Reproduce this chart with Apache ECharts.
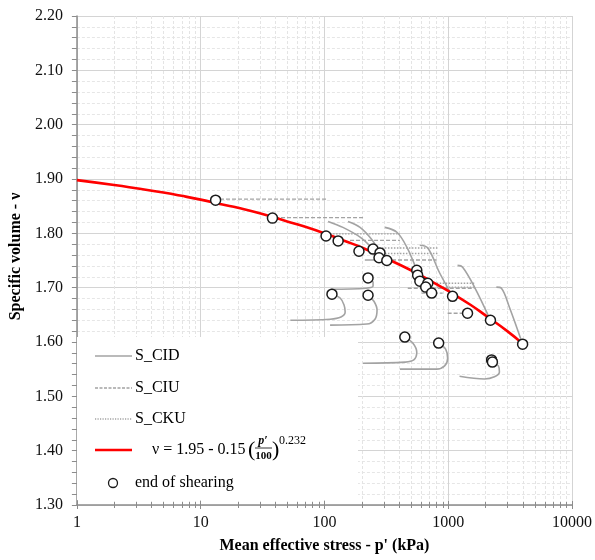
<!DOCTYPE html>
<html>
<head>
<meta charset="utf-8">
<script src="https://cdn.jsdelivr.net/npm/echarts/dist/echarts.min.js"></script>
<style>
  html, body { margin: 0; padding: 0; background: #fff; }
  #chart { width: 595px; height: 560px; }
</style>
</head>
<body>
<div id="chart"></div>
<script>
// Axis tick labels
const xTicks = [1, 10, 100, 1000, 10000];
const yTicks = ['1.30', '1.40', '1.50', '1.60', '1.70', '1.80', '1.90', '2.00', '2.10', '2.20'];

// Critical state line, nu = 1.95 - 0.15 (p'/100)^0.232, sampled [p', nu]
const cslLine = [
  [1, 1.898], [2, 1.889], [3, 1.883], [5, 1.875], [7, 1.869], [10, 1.862],
  [15, 1.853], [20, 1.847], [30, 1.837], [50, 1.822], [70, 1.812], [100, 1.800],
  [150, 1.785], [200, 1.774], [300, 1.756], [500, 1.732], [700, 1.714],
  [1000, 1.694], [1500, 1.669], [2000, 1.649], [3000, 1.620], [3990, 1.597]
];

// Drained triaxial stress paths (S_CID), [p', nu]
const cidPaths = [
  [[107, 1.822], [141, 1.811], [194, 1.793], [247, 1.771]],
  [[155, 1.822], [194, 1.811], [242, 1.788], [281, 1.763]],
  [[308, 1.811], [385, 1.802], [462, 1.775], [557, 1.732]],
  [[589, 1.778], [684, 1.773], [853, 1.727], [1084, 1.684]],
  [[1189, 1.741], [1304, 1.738], [1630, 1.701], [2193, 1.640]],
  [[2449, 1.701], [2690, 1.699], [3121, 1.664], [3990, 1.596]],
  [[115, 1.688], [134, 1.681], [144, 1.668], [147, 1.655], [136, 1.646], [111, 1.642], [53, 1.640]],
  [[225, 1.686], [251, 1.675], [266, 1.659], [256, 1.642], [220, 1.633], [111, 1.631]],
  [[225, 1.718], [247, 1.710], [247, 1.703], [217, 1.699], [112, 1.697]],
  [[446, 1.609], [517, 1.598], [557, 1.581], [527, 1.567], [446, 1.563], [205, 1.561]],
  [[837, 1.598], [953, 1.587], [989, 1.570], [935, 1.556], [807, 1.550], [407, 1.550]],
  [[2275, 1.563], [2543, 1.556], [2592, 1.545], [2362, 1.536], [1963, 1.532], [1234, 1.537]],
  [[212, 1.751], [281, 1.751]]
];

// Isotropically consolidated undrained paths (S_CIU), [p', nu]
const ciuPaths = [
  [[103, 1.863], [13.2, 1.863]],
  [[205, 1.829], [38, 1.829]],
  [[161, 1.787], [407, 1.787]],
  [[281, 1.751], [807, 1.751]],
  [[471, 1.699], [1630, 1.699]],
  [[611, 1.690], [902, 1.690]],
  [[989, 1.653], [1406, 1.653]]
];

// K0 consolidated undrained paths (S_CKU), [p', nu]
const ckuPaths = [
  [[105, 1.799], [407, 1.799]],
  [[233, 1.773], [822, 1.773]],
  [[233, 1.763], [822, 1.763]],
  [[807, 1.708], [1630, 1.708]],
  [[807, 1.701], [1630, 1.701]]
];

// End of shearing states, [p', nu]
const endPoints = [
  [13.2, 1.861], [38, 1.828], [103, 1.795], [129, 1.786], [190, 1.767],
  [247, 1.771], [281, 1.764], [276, 1.755], [319, 1.750], [557, 1.732],
  [566, 1.723], [590, 1.712], [684, 1.708], [658, 1.701], [735, 1.690],
  [1084, 1.684], [1432, 1.653], [2194, 1.640], [3990, 1.596], [225, 1.718],
  [225, 1.686], [115, 1.688], [446, 1.609], [837, 1.598], [2240, 1.567],
  [2275, 1.563]
];

const FONT = '"Liberation Serif", "Times New Roman", serif';
const GREY = '#a3a3a3';
const AXIS_GREY = '#8c8c8c';
const X_MIN = 1, X_MAX = 10000, Y_MIN = 1.3, Y_MAX = 2.2;

// Log-decade minor positions (2..9 in each decade) for the p' axis
const minorX = [];
for (let d = X_MIN; d < X_MAX; d *= 10) {
  for (let k = 2; k <= 9; k++) minorX.push([k * d, Y_MIN]);
}

function snap(v) { return Math.round(v) + 0.5; }

const series = [];
// minor vertical grid lines
series.push({
  type: 'custom', data: minorX, silent: true, z: 1, clip: false,
  renderItem: function (params, api) {
    const top = api.coord([api.value(0), Y_MAX]);
    const bot = api.coord([api.value(0), Y_MIN]);
    const x = snap(top[0]);
    return { type: 'line', shape: { x1: x, y1: top[1], x2: x, y2: bot[1] },
      style: { stroke: '#e4e4e4', lineWidth: 1, lineDash: [3, 2] } };
  }
});
// minor ticks crossing the p' axis
series.push({
  type: 'custom', data: minorX, silent: true, z: 12, clip: false,
  renderItem: function (params, api) {
    const bot = api.coord([api.value(0), Y_MIN]);
    const x = snap(bot[0]);
    return { type: 'line', shape: { x1: x, y1: bot[1] - 3, x2: x, y2: bot[1] + 3 },
      style: { stroke: AXIS_GREY, lineWidth: 1 } };
  }
});
cidPaths.forEach(function (d) {
  series.push({ type: 'line', data: d, smooth: 0.35, showSymbol: false, silent: true, z: 3,
    lineStyle: { color: GREY, width: 1.6, type: 'solid' } });
});
ciuPaths.forEach(function (d) {
  series.push({ type: 'line', data: d, showSymbol: false, silent: true, z: 3,
    lineStyle: { color: GREY, width: 1.4, type: [4, 2] } });
});
ckuPaths.forEach(function (d) {
  series.push({ type: 'line', data: d, showSymbol: false, silent: true, z: 3,
    lineStyle: { color: GREY, width: 1.4, type: [1.5, 1.5] } });
});
series.push({ type: 'line', data: cslLine, smooth: true, showSymbol: false, silent: true, z: 4,
  lineStyle: { color: '#ff0000', width: 2.6 } });
series.push({ type: 'scatter', data: endPoints, symbol: 'circle', symbolSize: 10, z: 5,
  itemStyle: { color: '#ffffff', borderColor: '#1a1a1a', borderWidth: 1.5, opacity: 1 } });

const xBase = {
  type: 'log', logBase: 10, min: X_MIN, max: X_MAX, position: 'bottom', gridIndex: 0
};

const chart = echarts.init(document.getElementById('chart'), null, { renderer: 'canvas' });
chart.setOption({
  animation: false,
  backgroundColor: '#ffffff',
  grid: { left: 76, right: 22, top: 16, bottom: 55, containLabel: false },
  xAxis: [
    Object.assign({}, xBase, {
      name: "Mean effective stress - p' (kPa)",
      nameLocation: 'middle', nameGap: 33,
      nameTextStyle: { fontFamily: FONT, fontSize: 16, fontWeight: 'bold', color: '#000' },
      axisLine: { show: true, lineStyle: { color: AXIS_GREY, width: 1.5 } },
      axisTick: { show: true, inside: false, length: 4, lineStyle: { color: AXIS_GREY } },
      minorTick: { show: false },
      axisLabel: { fontFamily: FONT, fontSize: 16, color: '#111', margin: 10,
        formatter: function (v) { return xTicks.indexOf(v) >= 0 ? String(v) : ''; } },
      splitLine: { show: true, lineStyle: { color: '#d4d4d4', width: 1 } },
      minorSplitLine: { show: false }
    }),
    Object.assign({}, xBase, {
      axisLine: { show: false },
      axisTick: { show: true, inside: true, length: 4, lineStyle: { color: AXIS_GREY } },
      minorTick: { show: false },
      axisLabel: { show: false },
      splitLine: { show: false }
    })
  ],
  yAxis: {
    type: 'value', min: Y_MIN, max: Y_MAX, interval: 0.1,
    name: 'Specific volume - ν', nameLocation: 'middle', nameGap: 52,
    nameTextStyle: { fontFamily: FONT, fontSize: 16, fontWeight: 'bold', color: '#000',
      padding: [0, 0, 0, 8] },
    axisLine: { show: true, lineStyle: { color: AXIS_GREY, width: 1.5 } },
    axisTick: { show: true, inside: false, length: 5, lineStyle: { color: AXIS_GREY } },
    minorTick: { show: true, splitNumber: 5, length: 5, lineStyle: { color: AXIS_GREY } },
    axisLabel: { fontFamily: FONT, fontSize: 16, color: '#111', margin: 14,
      formatter: function (v) {
        const s = v.toFixed(2);
        return yTicks.indexOf(s) >= 0 ? s : '';
      } },
    splitLine: { show: true, lineStyle: { color: '#d4d4d4', width: 1 } },
    minorSplitLine: { show: true, lineStyle: { color: '#e6e6e6', width: 1, type: [3, 2] } }
  },
  series: series,
  graphic: {
    elements: [
      { type: 'rect', z: 10, shape: { x: 77, y: 337, width: 281, height: 163 },
        style: { fill: '#ffffff' } },
      { type: 'line', z: 11, shape: { x1: 95, y1: 356, x2: 132, y2: 356 },
        style: { stroke: GREY, lineWidth: 1.6 } },
      { type: 'text', z: 11, x: 135, y: 356,
        style: { text: 'S_CID', font: '16px ' + FONT, fill: '#000', verticalAlign: 'middle' } },
      { type: 'line', z: 11, shape: { x1: 95, y1: 388, x2: 132, y2: 388 },
        style: { stroke: GREY, lineWidth: 1.4, lineDash: [3, 1.5] } },
      { type: 'text', z: 11, x: 135, y: 388,
        style: { text: 'S_CIU', font: '16px ' + FONT, fill: '#000', verticalAlign: 'middle' } },
      { type: 'line', z: 11, shape: { x1: 95, y1: 419, x2: 132, y2: 419 },
        style: { stroke: GREY, lineWidth: 1.4, lineDash: [1.2, 1.3] } },
      { type: 'text', z: 11, x: 135, y: 419,
        style: { text: 'S_CKU', font: '16px ' + FONT, fill: '#000', verticalAlign: 'middle' } },
      { type: 'line', z: 11, shape: { x1: 95, y1: 450, x2: 132, y2: 450 },
        style: { stroke: '#ff0000', lineWidth: 2.6 } },
      { type: 'text', z: 11, x: 152, y: 450,
        style: { text: 'ν = 1.95 - 0.15', font: '16px ' + FONT, fill: '#000', verticalAlign: 'middle' } },
      { type: 'text', z: 11, x: 248, y: 450,
        style: { text: '(', font: '22px ' + FONT, fill: '#000', verticalAlign: 'middle' } },
      { type: 'text', z: 11, x: 263, y: 441,
        style: { text: 'p′', font: 'italic bold 12px ' + FONT, fill: '#000', align: 'center', verticalAlign: 'middle' } },
      { type: 'line', z: 11, shape: { x1: 255, y1: 448, x2: 272, y2: 448 },
        style: { stroke: '#000', lineWidth: 0.8 } },
      { type: 'text', z: 11, x: 263.5, y: 456,
        style: { text: '100', font: 'bold 11px ' + FONT, fill: '#000', align: 'center', verticalAlign: 'middle' } },
      { type: 'text', z: 11, x: 272, y: 450,
        style: { text: ')', font: '22px ' + FONT, fill: '#000', verticalAlign: 'middle' } },
      { type: 'text', z: 11, x: 279, y: 441,
        style: { text: '0.232', font: '12px ' + FONT, fill: '#000', verticalAlign: 'middle' } },
      { type: 'circle', z: 11, shape: { cx: 113, cy: 483, r: 4.5 },
        style: { fill: '#fff', stroke: '#1a1a1a', lineWidth: 1.3 } },
      { type: 'text', z: 11, x: 135, y: 483,
        style: { text: 'end of shearing', font: '16px ' + FONT, fill: '#000', verticalAlign: 'middle' } }
    ]
  }
});
</script>
</body>
</html>
